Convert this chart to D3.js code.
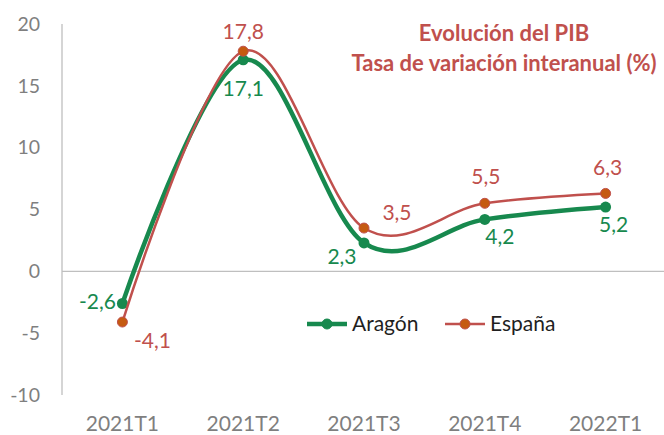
<!DOCTYPE html>
<html>
<head>
<meta charset="utf-8">
<script src="https://cdn.jsdelivr.net/npm/d3@7"></script>
<style>
  body { margin: 0; background: #fff; }
  svg { display: block; font-family: Lato, "Open Sans", sans-serif; }
</style>
</head>
<body>
<div id="chart"></div>
<script>
// Data
const quarters = ["2021T1", "2021T2", "2021T3", "2021T4", "2022T1"];
const aragon = [-2.6, 17.1, 2.3, 4.2, 5.2];
const espana = [-4.1, 17.8, 3.5, 5.5, 6.3];
const yTicks = [-10, -5, 0, 5, 10, 15, 20];

// label offsets (dx, dy) relative to each point
const aragonLabelOffsets = [[-25, -2], [0, 29], [-22, 14], [15, 17], [8, 18]];
const espanaLabelOffsets = [[30, 19], [0, -20], [33, -15], [1, -27], [2, -26]];

const fmt = (d) => String(d).replace(".", ",");

const width = 664, height = 435;
const margin = { top: 24, right: 0, bottom: 40, left: 62 };

const svg = d3.select("#chart")
  .append("svg")
  .attr("width", width)
  .attr("height", height);

const x = d3.scalePoint()
  .domain(quarters)
  .range([margin.left, 666])
  .padding(0.5);

const y = d3.scaleLinear()
  .domain([-10, 20])
  .range([395, margin.top]);

// Y axis line
svg.append("line")
  .attr("x1", margin.left).attr("x2", margin.left)
  .attr("y1", y(20)).attr("y2", y(-10))
  .attr("stroke", "#bfbfbf").attr("stroke-width", 1.3);

// Zero line
svg.append("line")
  .attr("x1", margin.left).attr("x2", width)
  .attr("y1", y(0)).attr("y2", y(0))
  .attr("stroke", "#bfbfbf").attr("stroke-width", 1.3);

// Y tick labels
svg.selectAll(".ytick")
  .data(yTicks)
  .enter()
  .append("text")
  .attr("class", "ytick")
  .attr("x", 40)
  .attr("y", (d) => y(d))
  .attr("dy", "0.35em")
  .attr("text-anchor", "end")
  .style("font-size", "19.5px")
  .style("fill", "#7f7f7f")
  .text((d) => d);

// X labels
svg.selectAll(".xtick")
  .data(quarters)
  .enter()
  .append("text")
  .attr("class", "xtick")
  .attr("x", (d) => x(d))
  .attr("y", 431)
  .attr("text-anchor", "middle")
  .style("font-size", "21px")
  .style("fill", "#7f7f7f")
  .text((d) => d);

const line = d3.line()
  .x((d, i) => x(quarters[i]))
  .y((d) => y(d))
  .curve(d3.curveCardinal.tension(0));

const green = "#17894e";
const red = "#c0504d";
const brown = "#c55a11";

// Aragón
svg.append("path")
  .datum(aragon)
  .attr("fill", "none")
  .attr("stroke", green)
  .attr("stroke-width", 4.5)
  .attr("d", line);

svg.selectAll(".pt-aragon")
  .data(aragon)
  .enter()
  .append("circle")
  .attr("class", "pt-aragon")
  .attr("cx", (d, i) => x(quarters[i]))
  .attr("cy", (d) => y(d))
  .attr("r", 5.5)
  .attr("fill", green);

// España
svg.append("path")
  .datum(espana)
  .attr("fill", "none")
  .attr("stroke", red)
  .attr("stroke-width", 2.5)
  .attr("d", line);

svg.selectAll(".pt-espana")
  .data(espana)
  .enter()
  .append("circle")
  .attr("class", "pt-espana")
  .attr("cx", (d, i) => x(quarters[i]))
  .attr("cy", (d) => y(d))
  .attr("r", 5)
  .attr("fill", brown)
  .attr("stroke", red)
  .attr("stroke-width", 1);

// Data labels
svg.selectAll(".lbl-aragon")
  .data(aragon)
  .enter()
  .append("text")
  .attr("class", "lbl-aragon")
  .attr("x", (d, i) => x(quarters[i]) + aragonLabelOffsets[i][0])
  .attr("y", (d, i) => y(d) + aragonLabelOffsets[i][1])
  .attr("dy", "0.35em")
  .attr("text-anchor", "middle")
  .style("font-size", "21px")
  .style("fill", green)
  .text((d) => fmt(d));

svg.selectAll(".lbl-espana")
  .data(espana)
  .enter()
  .append("text")
  .attr("class", "lbl-espana")
  .attr("x", (d, i) => x(quarters[i]) + espanaLabelOffsets[i][0])
  .attr("y", (d, i) => y(d) + espanaLabelOffsets[i][1])
  .attr("dy", "0.35em")
  .attr("text-anchor", "middle")
  .style("font-size", "21px")
  .style("fill", red)
  .text((d) => fmt(d));

// Title
const title = svg.append("text")
  .attr("text-anchor", "middle")
  .style("font-size", "22px")
  .style("font-weight", "bold")
  .style("fill", red);
title.append("tspan").attr("x", 504).attr("y", 41).text("Evolución del PIB");
title.append("tspan").attr("x", 504).attr("y", 71).text("Tasa de variación interanual (%)");

// Legend
const legendData = [
  { name: "Aragón", color: green, fill: green, width: 4.5, x: 307 },
  { name: "España", color: red, fill: brown, width: 2.5, x: 445 },
];
const legend = svg.append("g").attr("class", "legend");
const items = legend.selectAll(".legend-item")
  .data(legendData)
  .enter()
  .append("g")
  .attr("class", "legend-item")
  .attr("transform", (d) => `translate(${d.x}, 324)`);

items.append("line")
  .attr("x1", 0).attr("x2", 40)
  .attr("stroke", (d) => d.color)
  .attr("stroke-width", (d) => d.width);

items.append("circle")
  .attr("cx", 20)
  .attr("r", 5)
  .attr("fill", (d) => d.fill)
  .attr("stroke", (d) => d.color)
  .attr("stroke-width", 1);

items.append("text")
  .attr("x", 45)
  .attr("dy", "0.35em")
  .style("font-size", "21px")
  .style("fill", "#1f1f1f")
  .text((d) => d.name);
</script>
</body>
</html>
